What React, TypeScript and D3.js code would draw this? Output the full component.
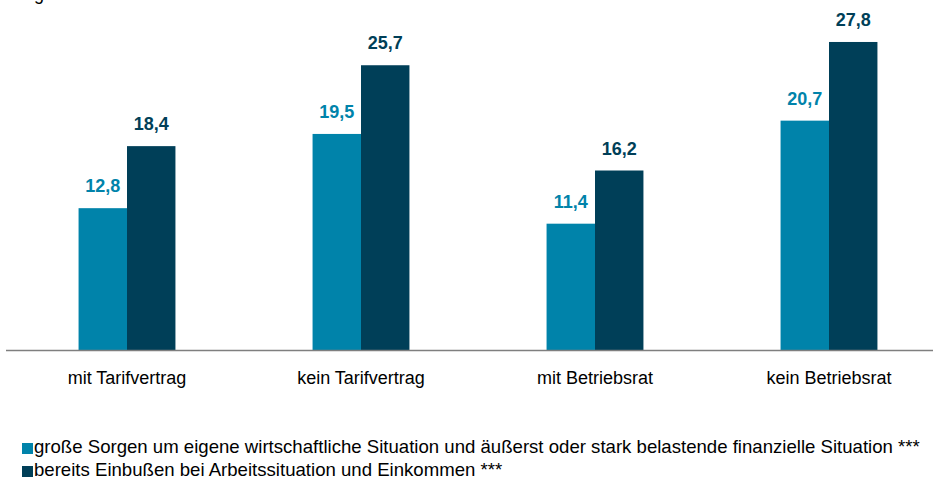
import { useEffect, useRef } from "react";
import * as d3 from "d3";

const categories = ["mit Tarifvertrag", "kein Tarifvertrag", "mit Betriebsrat", "kein Betriebsrat"];
const seriesNames = [
  "große Sorgen um eigene wirtschaftliche Situation und äußerst oder stark belastende finanzielle Situation ***",
  "bereits Einbußen bei Arbeitssituation und Einkommen ***",
];
const sorgen = [12.8, 19.5, 11.4, 20.7];
const einbussen = [18.4, 25.7, 16.2, 27.8];
const colors = ["#0083aa", "#003f58"];

const W = 933;
const H = 481;
const FONT = "'Liberation Sans', Arial, sans-serif";

const App = () => {
  const svgRef = useRef<SVGSVGElement>(null);

  useEffect(() => {
    const svg = d3.select(svgRef.current);
    svg.selectAll("*").remove();

    const baseY = 350;
    const x = d3.scaleBand().domain(categories).range([10, 946]).padding(0);
    const barW = x.bandwidth() * 0.207;
    const y = d3.scaleLinear().domain([0, 30]).range([baseY, baseY - 332.4]);

    // title, mostly cut off at the top edge
    svg
      .append("text")
      .attr("x", 12)
      .attr("y", -0.5)
      .attr("font-family", FONT)
      .attr("font-size", 18)
      .attr("fill", "#000")
      .text("Angaben in Prozent");

    const series = [sorgen, einbussen];
    series.forEach((vals, si) => {
      const g = svg.append("g");
      const rows = categories.map((c, i) => ({ c, v: vals[i] }));
      const bx = (c: string) => (x(c) as number) + x.bandwidth() / 2 + (si === 0 ? -barW : 0);
      g.selectAll("rect")
        .data(rows)
        .enter()
        .append("rect")
        .attr("x", (d) => bx(d.c))
        .attr("y", (d) => y(d.v))
        .attr("width", barW)
        .attr("height", (d) => baseY - y(d.v))
        .attr("fill", colors[si]);
      g.selectAll("text")
        .data(rows)
        .enter()
        .append("text")
        .attr("x", (d) => bx(d.c) + barW / 2)
        .attr("y", (d) => y(d.v) - 16)
        .attr("text-anchor", "middle")
        .attr("font-family", FONT)
        .attr("font-size", 18)
        .attr("font-weight", "bold")
        .attr("fill", colors[si])
        .text((d) => d3.format(".1f")(d.v).replace(".", ","));
    });

    svg
      .append("line")
      .attr("x1", 6)
      .attr("x2", W)
      .attr("y1", baseY + 0.5)
      .attr("y2", baseY + 0.5)
      .attr("stroke", "#7f7f7f")
      .attr("stroke-width", 1.5);

    svg
      .append("g")
      .selectAll("text")
      .data(categories)
      .enter()
      .append("text")
      .attr("x", (d) => (x(d) as number) + x.bandwidth() / 2)
      .attr("y", 384)
      .attr("text-anchor", "middle")
      .attr("font-family", FONT)
      .attr("font-size", 18)
      .attr("fill", "#000")
      .text((d) => d);

    const legend = svg.append("g");
    seriesNames.forEach((name, i) => {
      const ly = 453 + i * 23;
      legend
        .append("rect")
        .attr("x", 22)
        .attr("y", ly - 10)
        .attr("width", 11)
        .attr("height", 11)
        .attr("fill", colors[i]);
      legend
        .append("text")
        .attr("x", 34)
        .attr("y", ly)
        .attr("font-family", FONT)
        .attr("font-size", 18.6)
        .attr("fill", "#000")
        .text(name);
    });
  }, []);

  return (
    <svg
      ref={svgRef}
      width={W}
      height={H}
      style={{ position: "absolute", left: 0, top: 0, background: "#fff" }}
    />
  );
};

export default App;
